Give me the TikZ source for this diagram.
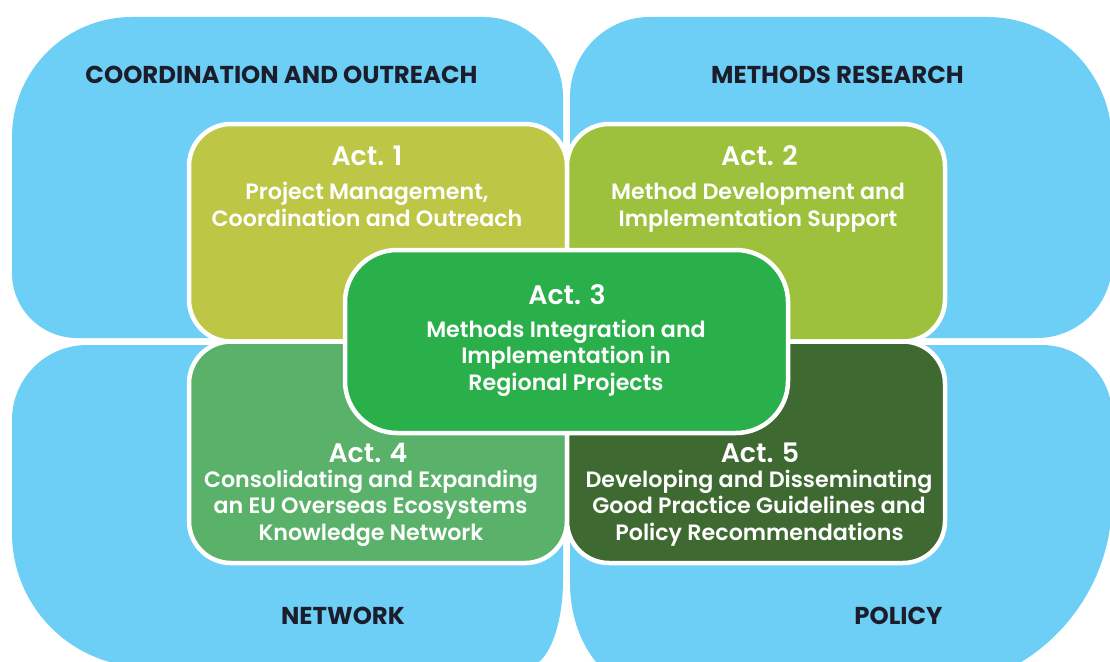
\documentclass[tikz,border=0pt]{standalone}
\usepackage{fontspec}
\newfontfamily\popsb{Poppins SemiBold}
\newfontfamily\popb{Poppins Bold}
\definecolor{quadblue}{HTML}{6DCFF6}
\definecolor{actone}{HTML}{BEC645}
\definecolor{acttwo}{HTML}{9DC13D}
\definecolor{actthree}{HTML}{2AB04B}
\definecolor{actfour}{HTML}{5AB26A}
\definecolor{actfive}{HTML}{3E6A32}
\definecolor{headc}{HTML}{1B1D2B}
\begin{document}
\begin{tikzpicture}[x=1pt,y=-1pt,
  quad/.style={fill=quadblue, draw=none},
  actbox/.style={draw=white, line width=4.5pt, rounded corners=42pt},
  heading/.style={font=\popb\fontsize{24.4}{28}\selectfont, text=headc, anchor=base, inner sep=0pt},
  acttitle/.style={font=\popsb\fontsize{26.8}{30}\selectfont, text=white, anchor=base, inner sep=0pt},
  actline/.style={font=\popsb\fontsize{22.2}{26}\selectfont, text=white, anchor=base, inner sep=0pt}]
\useasboundingbox (0,0) rectangle (1110,661);
\clip (0,0) rectangle (1110,661);
\fill[white] (0,0) rectangle (1110,661);
% quadrants
\path[quad] (132,17) -- (483,17) arc[start angle=-90, end angle=0, radius=80]
  -- (563,338) -- (77,338) arc[start angle=90, end angle=180, radius=65]
  -- (12,137) arc[start angle=180, end angle=270, radius=120] -- cycle;
\path[quad] (650,17) -- (987,17) arc[start angle=-90, end angle=0, radius=125]
  -- (1112,263) arc[start angle=0, end angle=90, radius=75]
  -- (570,338) -- (570,97) arc[start angle=180, end angle=270, radius=80] -- cycle;
\path[quad] (87,345) -- (563,345) -- (563,580) arc[start angle=0, end angle=90, x radius=36, y radius=87]
  -- (146,667) arc[start angle=90, end angle=180, radius=134]
  -- (12,420) arc[start angle=180, end angle=270, radius=75] -- cycle;
\path[quad] (570,345) -- (1042,345) arc[start angle=-90, end angle=0, radius=70]
  -- (1112,500) arc[start angle=0, end angle=90, radius=190]
  -- (650,690) arc[start angle=90, end angle=180, x radius=80, y radius=107] -- cycle;
% act boxes
\draw[actbox, fill=actone] (189,124) rectangle (567,341.5);
\draw[actbox, fill=acttwo] (567,124) rectangle (945,341.5);
\draw[actbox, fill=actfour] (189,341.5) rectangle (567,563);
\draw[actbox, fill=actfive] (567,341.5) rectangle (945,563);
\draw[actbox, fill=actthree, rounded corners=52pt] (345,250) rectangle (788,433);
% headings
\node[heading] (h1) at (281.5,83.3) {COORDINATION AND OUTREACH};
\node[heading] (h2) at (837.5,83.3) {METHODS RESEARCH};
\node[heading] (h3) at (343,624) {NETWORK};
\node[heading] (h4) at (898.5,624) {POLICY};
% act 1
\node[acttitle] (a1t) at (367,165) {Act. 1};
\node[actline] (a1a) at (367,199.5) {Project Management,};
\node[actline] (a1b) at (367,226.5) {Coordination and Outreach};
% act 2
\node[acttitle] (a2t) at (759.5,165) {Act. 2};
\node[actline] (a2a) at (758,199.5) {Method Development and};
\node[actline] (a2b) at (758,226.5) {Implementation Support};
% act 3
\node[acttitle] (a3t) at (567,304) {Act. 3};
\node[actline] (a3a) at (566,337) {Methods Integration and};
\node[actline] (a3b) at (566,363.5) {Implementation in};
\node[actline] (a3c) at (566,390) {Regional Projects};
% act 4
\node[acttitle] (a4t) at (368,462) {Act. 4};
\node[actline] (a4a) at (371,487) {Consolidating and Expanding};
\node[actline] (a4b) at (370.5,513.5) {an EU Overseas Ecosystems};
\node[actline] (a4c) at (371,540) {Knowledge Network};
% act 5
\node[acttitle] (a5t) at (760,462) {Act. 5};
\node[actline] (a5a) at (759,487) {Developing and Disseminating};
\node[actline] (a5b) at (759,513.5) {Good Practice Guidelines and};
\node[actline] (a5c) at (759.5,540) {Policy Recommendations};
\end{tikzpicture}
\end{document}
